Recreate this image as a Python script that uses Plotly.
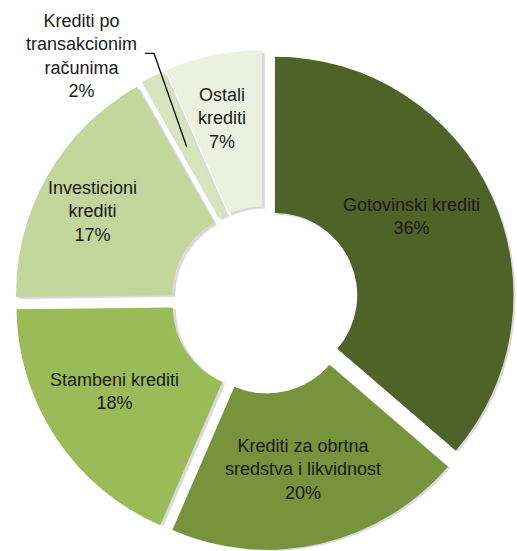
import plotly.graph_objects as go

labels = ["Gotovinski krediti", "Krediti za obrtna<br>sredstva i likvidnost", "Stambeni krediti",
          "Investicioni<br>krediti", "Krediti po<br>transakcionim<br>računima", "Ostali<br>krediti"]
values = [36.3, 20.2, 18.3, 17.0, 1.6, 6.6]
colors = ["#4F6228", "#77933C", "#9BBB59", "#C3D69B", "#D7E4BD", "#EBF1DE"]

# label anchor positions (pixels from top-left of the figure)
label_pos = [(411.5, 216), (303, 469.5), (114.5, 391), (92.5, 211), (81.5, 55.5), (222, 118)]

W, H = 517, 551
FONT = dict(family="Liberation Sans, Arial, sans-serif", size=18, color="#1a1a1a")


def px_dom(x0, x1, ytop, ybot):
    return dict(x=[max(0, x0 / W), min(1, x1 / W)],
                y=[max(0, 1 - ybot / H), min(1, 1 - ytop / H)])


# soft shadow underneath
shadow = go.Pie(
    values=values, sort=False, direction="clockwise", rotation=0,
    hole=0.345, pull=0.048,
    marker=dict(colors=["rgba(0,0,0,0.15)"] * len(values), line=dict(width=0)),
    textinfo="none", hoverinfo="skip", showlegend=False,
    domain=px_dom(17.5, 517, 52.5, 551),
)

pie = go.Pie(
    labels=labels, values=values, sort=False, direction="clockwise", rotation=0,
    hole=0.345, pull=0.048,
    marker=dict(colors=colors, line=dict(width=0)),
    textinfo="none", showlegend=False,
    domain=px_dom(14.5, 514.5, 49.5, 550.5),
)

fig = go.Figure([shadow, pie])

# leader line for the small slice
fig.add_shape(type="path", xref="paper", yref="paper",
              path=f"M {145/W} {1-53.3/H} L {154/W} {1-53.3/H} L {186.7/W} {1-146.7/H}",
              line=dict(color="black", width=1.3))

for lab, val, (lx, ly) in zip(labels, values, label_pos):
    fig.add_annotation(
        x=lx / W, y=1 - ly / H, xref="paper", yref="paper",
        xanchor="center", yanchor="middle",
        text=f"{lab}<br>{round(val)}%", showarrow=False, align="center", font=FONT,
    )

fig.update_layout(
    width=W, height=H, margin=dict(l=0, r=0, t=0, b=0),
    paper_bgcolor="white", plot_bgcolor="white",
)
fig.write_html("out.html", config={"displayModeBar": False},
               post_script="document.body.style.margin='0';document.body.style.overflow='hidden';")
